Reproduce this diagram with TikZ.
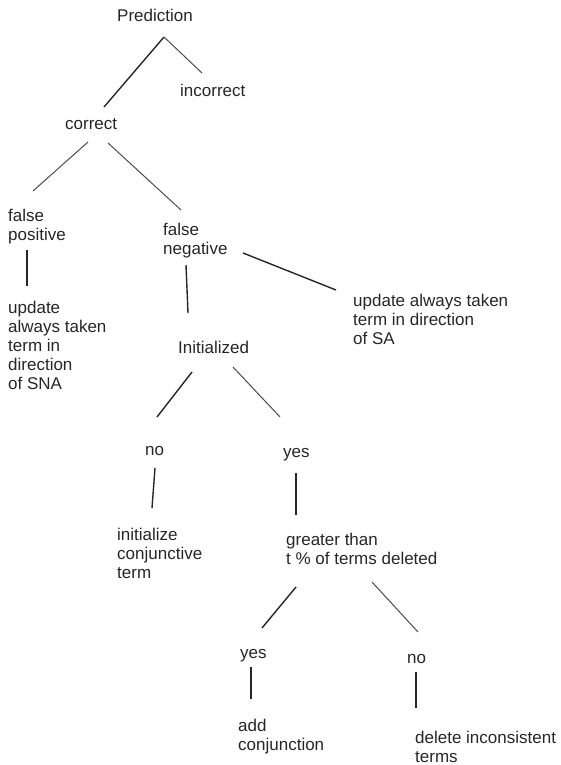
\documentclass[tikz,border=0pt]{standalone}
\usepackage{fontspec}
\setmainfont{Liberation Sans}
\begin{document}
\begin{tikzpicture}[x=1pt,y=-1pt,
  lbl/.style={anchor=base west,inner sep=0pt,align=left,text=black!85,
    font=\fontsize{17}{19}\selectfont},
  edge/.style={draw=black!85,line width=1.4pt},
  fedge/.style={draw=black!70,line width=1pt}]
\useasboundingbox (0,0) rectangle (561,765);
% labels (placed at the baseline of their last line)
\node[lbl] (pred) at (117,22) {Prediction};
\node[lbl] (incor) at (180,97) {incorrect};
\node[lbl] (cor) at (65,129) {correct};
\node[lbl] (fpos) at (8,240) {false\\positive};
\node[lbl] (fneg) at (163,254) {false\\negative};
\node[lbl] (sna) at (8,389) {update\\always taken\\term in\\direction\\of SNA};
\node[lbl] (sa) at (353,344) {update always taken\\term in direction\\of SA};
\node[lbl] (init) at (178,353) {Initialized};
\node[lbl] (noa) at (145,455) {no};
\node[lbl] (yesa) at (283,457) {yes};
\node[lbl] (conj) at (117,578) {initialize\\conjunctive\\term};
\node[lbl] (thr) at (286,564) {greater than\\t \% of terms deleted};
\node[lbl] (yesb) at (240,658) {yes};
\node[lbl] (nob) at (407,663) {no};
\node[lbl] (add) at (238,750) {add\\conjunction};
\node[lbl] (del) at (415,762) {delete inconsistent\\terms};
% line ends
\coordinate (pred-d) at (164,37);
\coordinate (cor-u) at (104,107);
\coordinate (incor-u) at (202,73);
\coordinate (cor-dl) at (88,142);
\coordinate (cor-dr) at (108,143);
\coordinate (fpos-u) at (33,191);
\coordinate (fneg-u) at (181,210);
\coordinate (fpos-d) at (27,250);
\coordinate (sna-u) at (27,286);
\coordinate (fneg-d) at (186,265);
\coordinate (init-u) at (188,313);
\coordinate (fneg-r) at (243,253);
\coordinate (sa-u) at (336,290);
\coordinate (init-dl) at (192,372);
\coordinate (init-dr) at (233,367);
\coordinate (noa-u) at (157,417);
\coordinate (yesa-u) at (280,417);
\coordinate (noa-d) at (155,468);
\coordinate (conj-u) at (152,508);
\coordinate (yesa-d) at (296,473);
\coordinate (thr-u) at (296,515);
\coordinate (thr-dl) at (296,587);
\coordinate (thr-dr) at (372,582);
\coordinate (yesb-u) at (262,628);
\coordinate (nob-u) at (418,632);
\coordinate (yesb-d) at (251,667);
\coordinate (add-u) at (251,699);
\coordinate (nob-d) at (416,672);
\coordinate (del-u) at (416,708);
% tree
\draw[edge] (pred-d) -- (cor-u);
\draw[fedge] (pred-d) -- (incor-u);
\draw[fedge] (cor-dl) -- (fpos-u);
\draw[fedge] (cor-dr) -- (fneg-u);
\draw[edge] (fpos-d) -- (sna-u);
\draw[edge] (fneg-d) -- (init-u);
\draw[edge] (fneg-r) -- (sa-u);
\draw[edge] (init-dl) -- (noa-u);
\draw[fedge] (init-dr) -- (yesa-u);
\draw[edge] (noa-d) -- (conj-u);
\draw[edge] (yesa-d) -- (thr-u);
\draw[edge] (thr-dl) -- (yesb-u);
\draw[fedge] (thr-dr) -- (nob-u);
\draw[edge] (yesb-d) -- (add-u);
\draw[edge] (nob-d) -- (del-u);
\end{tikzpicture}
\end{document}
